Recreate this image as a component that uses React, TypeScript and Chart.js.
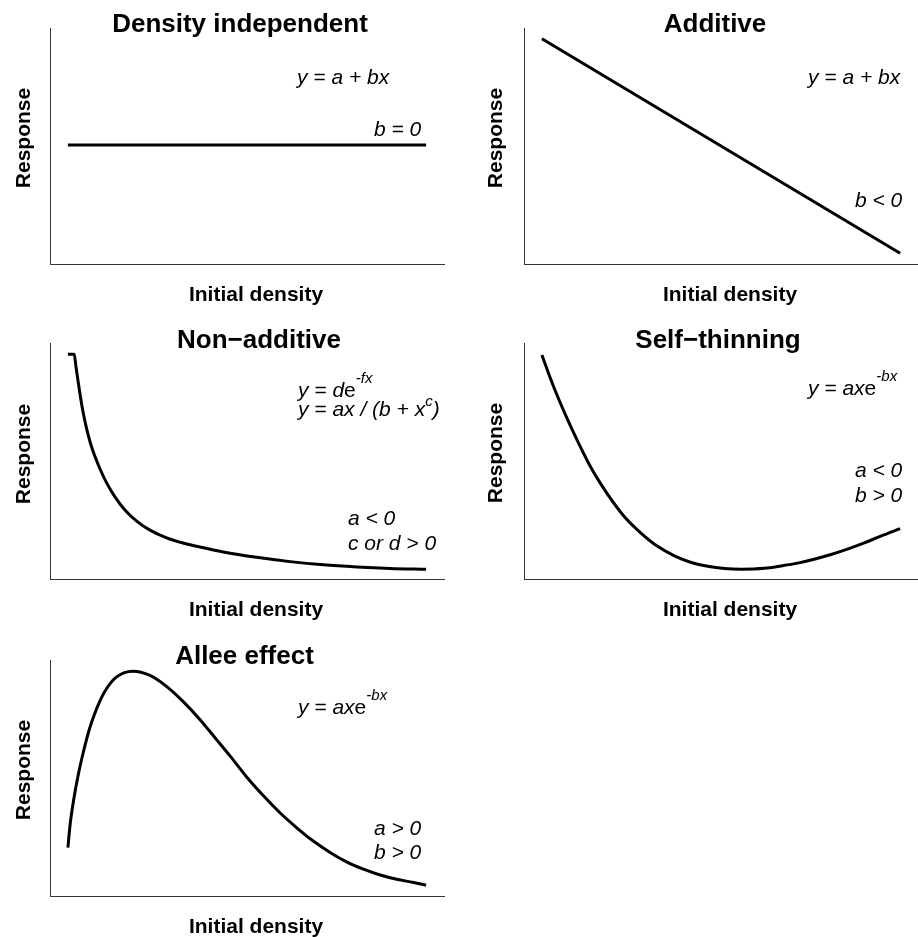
import React, { useEffect, useRef } from "react";
import { Chart, registerables } from "chart.js";

Chart.register(...registerables);

const FONT = "'Liberation Sans', Arial, Helvetica, sans-serif";
const X_LABEL = "Initial density";
const Y_LABEL = "Response";

// Panel titles
const titles = ["Density independent", "Additive", "Non\u2212additive", "Self\u2212thinning", "Allee effect"];

// Density independent
const diX = [0, 10];
const diY = [5.05, 5.05];

// Additive
const addX = [0, 10];
const addY = [10, 0];

// Non-additive
const naX = [0, 0.176, 0.223, 0.288, 0.355, 0.427, 0.522, 0.642, 0.754, 0.894, 1.081, 1.313, 1.592, 1.919, 2.291, 2.757, 3.212, 3.687, 4.338, 5.271, 6.201, 7.131, 8.064, 8.994, 10];
const naY = [9.97, 9.97, 9.42, 8.67, 7.94, 7.25, 6.51, 5.76, 5.22, 4.64, 3.98, 3.33, 2.72, 2.2, 1.78, 1.42, 1.18, 0.99, 0.76, 0.51, 0.31, 0.16, 0.06, -0.01, -0.05];

// Self-thinning
const stX = [0, 0.22, 0.45, 0.73, 1.01, 1.38, 1.85, 2.31, 2.78, 3.24, 3.7, 4.17, 4.63, 5.1, 5.56, 6.21, 6.68, 7.14, 7.6, 8.07, 8.53, 9.0, 9.46, 10];
const stY = [9.94, 8.93, 7.96, 6.88, 5.88, 4.66, 3.41, 2.39, 1.62, 1.01, 0.58, 0.27, 0.09, -0.01, -0.04, 0.0, 0.11, 0.24, 0.42, 0.64, 0.89, 1.18, 1.5, 1.85];

// Allee effect
const alX = [0, 0.06, 0.15, 0.29, 0.43, 0.61, 0.8, 1.03, 1.36, 1.82, 2.29, 2.76, 3.22, 3.69, 4.15, 4.53, 4.99, 5.46, 5.92, 6.39, 6.85, 7.32, 7.78, 8.25, 8.72, 9.18, 9.65, 10];
const alY = [1.75, 2.81, 3.87, 5.16, 6.2, 7.33, 8.22, 9.03, 9.71, 9.98, 9.78, 9.26, 8.56, 7.72, 6.79, 6.02, 5.05, 4.17, 3.38, 2.68, 2.06, 1.53, 1.09, 0.75, 0.48, 0.28, 0.13, 0];

type Run = { t: string; italic?: boolean; sup?: number };
type Note = { x: number; y: number; runs: Run[] };
type Panel = {
  left: number; top: number; width: number; height: number;
  pad: { left: number; right: number; top: number; bottom: number };
  title: string; titleX: number; titleY: number;
  yLabelX: number; yLabelY: number;
  xLabelX: number; xLabelY: number;
  notes: Note[];
  xs: number[]; ys: number[];
};

const panels: Panel[] = [
  {
    left: 0, top: 0, width: 459, height: 310,
    pad: { left: 50, right: 15, top: 28, bottom: 46 },
    title: titles[0], titleX: 240, titleY: 32,
    yLabelX: 29.5, yLabelY: 138, xLabelX: 256, xLabelY: 301,
    notes: [
      { x: 297, y: 84, runs: [{ t: "y = a + bx", italic: true }] },
      { x: 374, y: 136, runs: [{ t: "b = 0", italic: true }] },
    ],
    xs: diX, ys: diY,
  },
  {
    left: 459, top: 0, width: 459, height: 310,
    pad: { left: 65, right: 0, top: 28, bottom: 46 },
    title: titles[1], titleX: 256, titleY: 32,
    yLabelX: 43, yLabelY: 138, xLabelX: 271, xLabelY: 301,
    notes: [
      { x: 349, y: 84, runs: [{ t: "y = a + bx", italic: true }] },
      { x: 396, y: 207, runs: [{ t: "b < 0", italic: true }] },
    ],
    xs: addX, ys: addY,
  },
  {
    left: 0, top: 310, width: 459, height: 310,
    pad: { left: 50, right: 15, top: 33, bottom: 41 },
    title: titles[2], titleX: 259, titleY: 38,
    yLabelX: 29.5, yLabelY: 144, xLabelX: 256, xLabelY: 306,
    notes: [
      { x: 298, y: 87, runs: [{ t: "y = d", italic: true }, { t: "e", italic: false }, { t: "-fx", italic: true, sup: 14 }] },
      { x: 298, y: 106, runs: [{ t: "y = ax / (b + x", italic: true }, { t: "c", italic: true, sup: 10 }, { t: ")", italic: true }] },
      { x: 348, y: 215, runs: [{ t: "a < 0", italic: true }] },
      { x: 348, y: 240, runs: [{ t: "c or d > 0", italic: true }] },
    ],
    xs: naX, ys: naY,
  },
  {
    left: 459, top: 310, width: 459, height: 310,
    pad: { left: 65, right: 0, top: 33, bottom: 41 },
    title: titles[3], titleX: 259, titleY: 38,
    yLabelX: 43, yLabelY: 143, xLabelX: 271, xLabelY: 306,
    notes: [
      { x: 349, y: 85, runs: [{ t: "y = ax", italic: true }, { t: "e", italic: false }, { t: "-bx", italic: true, sup: 14 }] },
      { x: 396, y: 167, runs: [{ t: "a < 0", italic: true }] },
      { x: 396, y: 192, runs: [{ t: "b > 0", italic: true }] },
    ],
    xs: stX, ys: stY,
  },
  {
    left: 0, top: 620, width: 459, height: 317,
    pad: { left: 50, right: 15, top: 40, bottom: 41 },
    title: titles[4], titleX: 244.5, titleY: 43.5,
    yLabelX: 29.5, yLabelY: 150, xLabelX: 256, xLabelY: 313,
    notes: [
      { x: 298, y: 94, runs: [{ t: "y = ax", italic: true }, { t: "e", italic: false }, { t: "-bx", italic: true, sup: 14 }] },
      { x: 374, y: 215, runs: [{ t: "a > 0", italic: true }] },
      { x: 374, y: 239, runs: [{ t: "b > 0", italic: true }] },
    ],
    xs: alX, ys: alY,
  },
];

function makeTextPlugin(p: Panel) {
  return {
    id: "panelText",
    afterDraw(chart: any) {
      const ctx: CanvasRenderingContext2D = chart.ctx;
      ctx.save();
      ctx.fillStyle = "#000";
      ctx.textBaseline = "alphabetic";
      ctx.textAlign = "center";
      ctx.font = `bold 26px ${FONT}`;
      ctx.fillText(p.title, p.titleX, p.titleY);
      ctx.font = `bold 21px ${FONT}`;
      ctx.fillText(X_LABEL, p.xLabelX, p.xLabelY);
      ctx.save();
      ctx.translate(p.yLabelX, p.yLabelY);
      ctx.rotate(-Math.PI / 2);
      ctx.fillText(Y_LABEL, 0, 0);
      ctx.restore();
      ctx.textAlign = "left";
      for (const note of p.notes) {
        let x = note.x;
        for (const r of note.runs) {
          const size = r.sup ? 15 : 21;
          ctx.font = `${r.italic === false ? "" : "italic "}${size}px ${FONT}`;
          ctx.fillText(r.t, x, note.y - (r.sup || 0));
          x += ctx.measureText(r.t).width;
        }
      }
      ctx.restore();
    },
  };
}

function PanelChart({ p }: { p: Panel }) {
  const ref = useRef<HTMLCanvasElement | null>(null);
  useEffect(() => {
    if (!ref.current) return;
    const axisBorder = { display: true, color: "#333", width: 1 };
    const chart = new Chart(ref.current, {
      type: "line",
      data: {
        datasets: [
          {
            data: p.xs.map((x, i) => ({ x, y: p.ys[i] })),
            borderColor: "#000",
            borderWidth: 3,
            fill: false,
            pointRadius: 0,
            cubicInterpolationMode: "monotone",
          },
        ],
      },
      options: {
        animation: false,
        responsive: false,
        devicePixelRatio: 1,
        layout: { padding: p.pad },
        plugins: {
          legend: { display: false },
          tooltip: { enabled: false },
          title: { display: false },
        },
        scales: {
          x: {
            type: "linear",
            min: -0.5,
            max: 10.5,
            grid: { display: false },
            ticks: { display: false },
            border: axisBorder,
            afterFit: (s: any) => { s.height = 0; },
          },
          y: {
            type: "linear",
            min: -0.5,
            max: 10.5,
            grid: { display: false },
            ticks: { display: false },
            border: axisBorder,
            afterFit: (s: any) => { s.width = 0; },
          },
        },
      } as any,
      plugins: [makeTextPlugin(p)],
    });
    return () => chart.destroy();
  }, [p]);
  return (
    <canvas
      ref={ref}
      width={p.width}
      height={p.height}
      style={{ position: "absolute", left: p.left, top: p.top, width: p.width, height: p.height }}
    />
  );
}

export default function App() {
  return (
    <div style={{ position: "absolute", left: 0, top: 0, width: 918, height: 937, background: "#fff", fontFamily: FONT }}>
      {panels.map((p, i) => (
        <PanelChart key={i} p={p} />
      ))}
    </div>
  );
}
